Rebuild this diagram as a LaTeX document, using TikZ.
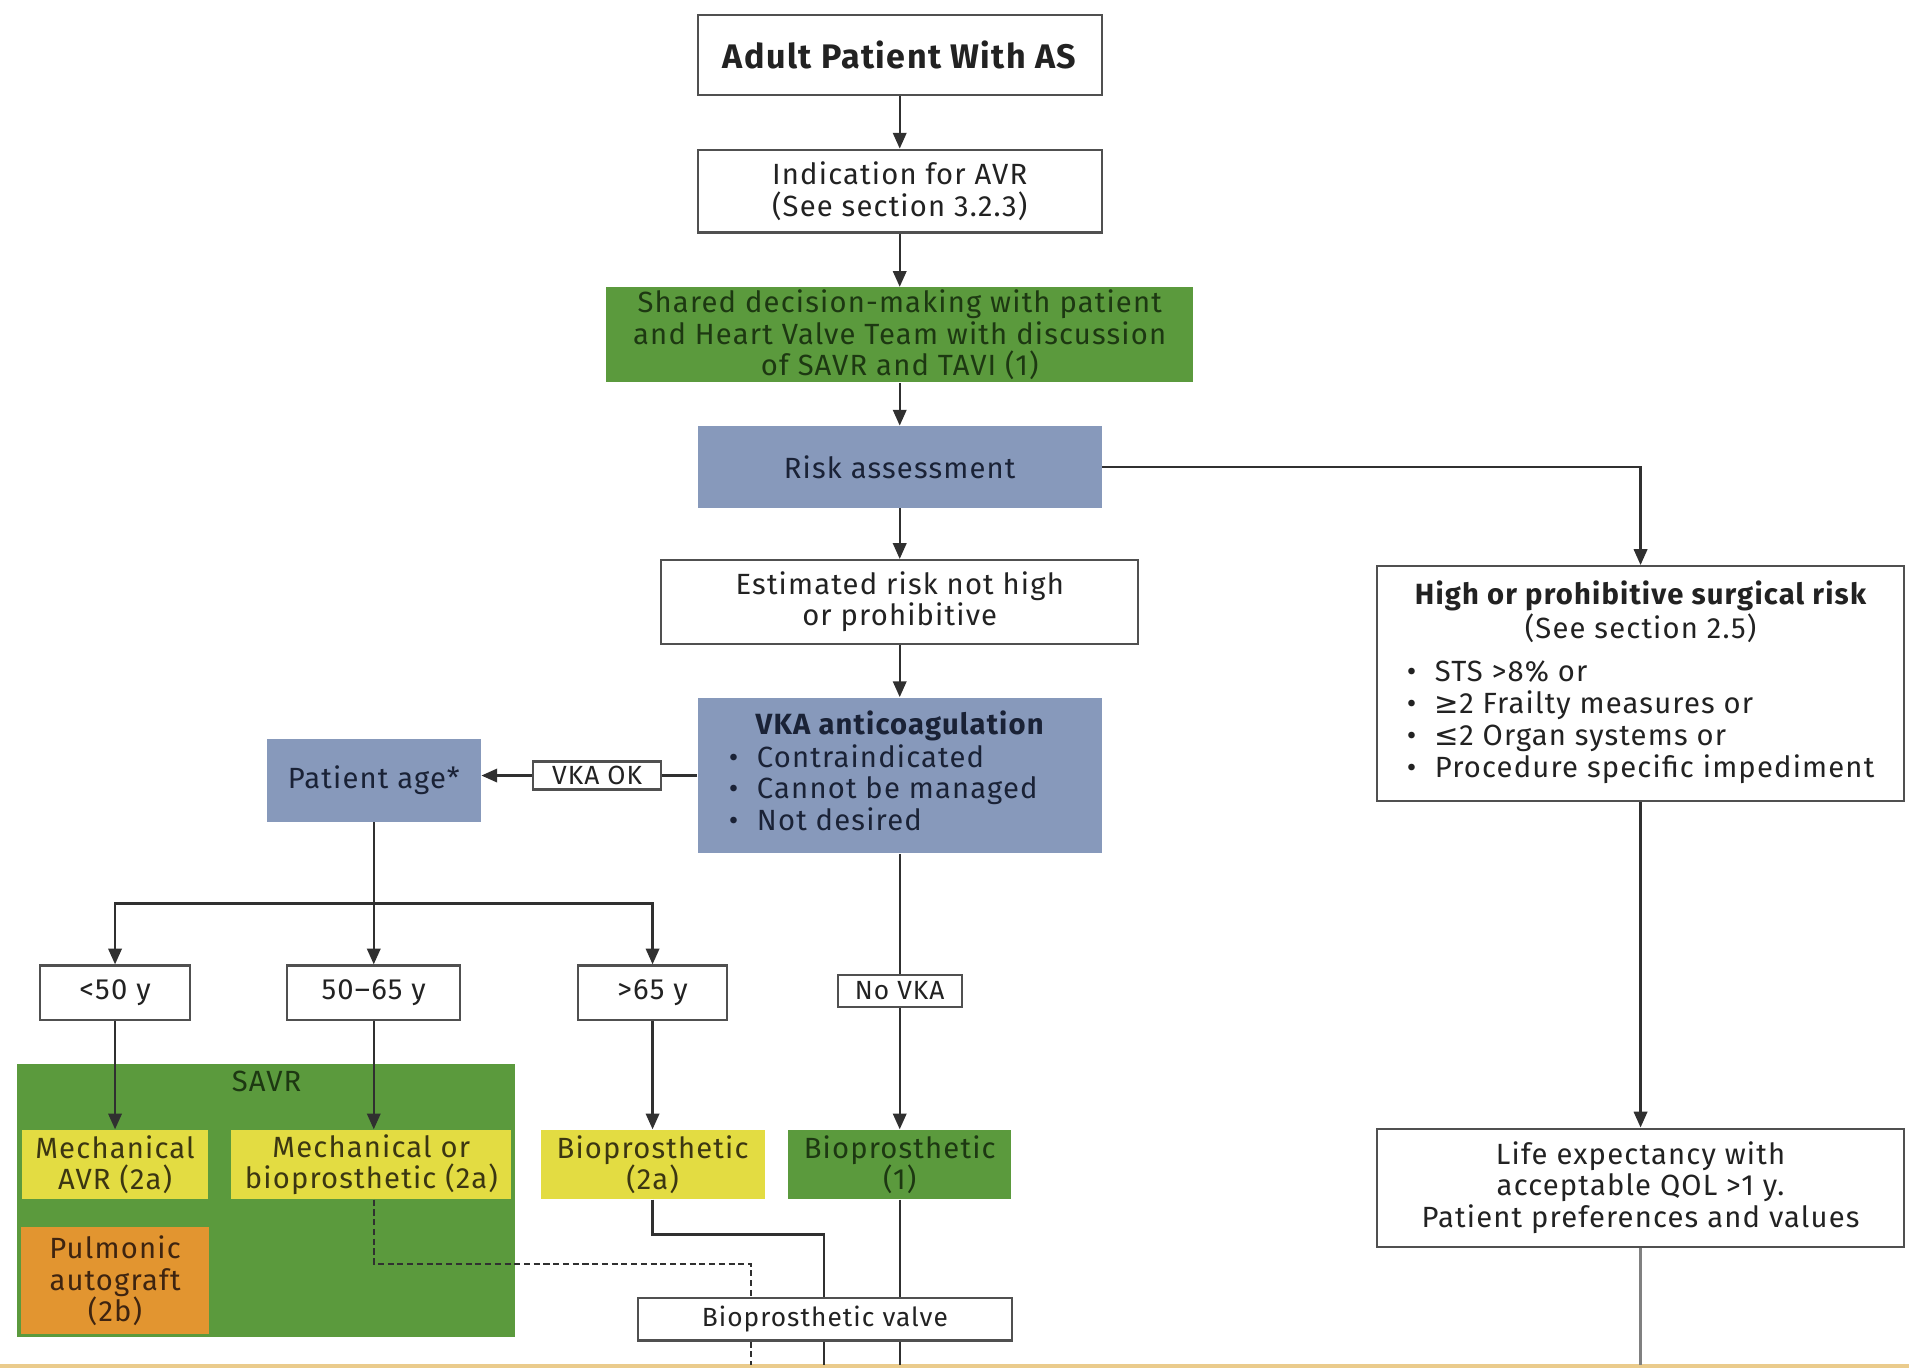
\documentclass[tikz,border=0pt]{standalone}
\usepackage{fontspec}
\setmainfont{Fira Sans}[LetterSpace=4]
\newfontfamily\symf{DejaVu Sans}
\usetikzlibrary{arrows.meta}

\definecolor{savrgreen}{HTML}{5B9A3D}
\definecolor{ylw}{HTML}{E3DC42}
\definecolor{orng}{HTML}{E29530}
\definecolor{slate}{HTML}{8799BB}
\definecolor{inkgreen}{HTML}{1D3812}
\definecolor{inkblue}{HTML}{1A2236}
\definecolor{inkolive}{HTML}{3B3612}
\definecolor{inkbrown}{HTML}{3E2410}
\definecolor{ink}{HTML}{222222}
\definecolor{boxline}{HTML}{505050}
\definecolor{lineink}{HTML}{303030}
\definecolor{strip}{HTML}{EACB8C}

\newcommand{\bul}{\makebox[11.5pt][l]{\textbullet}}

\begin{document}
\begin{tikzpicture}[x=0.5pt,y=-0.5pt,
  sz/.style 2 args={minimum width=#1*0.5pt, minimum height=#2*0.5pt},
  base/.style={inner sep=0pt, align=center, font=\fontsize{12}{12.8}\selectfont},
  box/.style={base, draw=boxline, line width=0.9pt, fill=white, text=ink},
  tag/.style={box, font=\fontsize{10.8}{11}\selectfont},
  bluebox/.style={base, fill=slate, text=inkblue},
  greenbox/.style={base, fill=savrgreen, text=inkgreen},
  yellowbox/.style={base, fill=ylw, text=inkolive},
  orangebox/.style={base, fill=orng, text=inkbrown},
  conn/.style={draw=lineink, line width=1pt},
  arr/.style={conn, -{Triangle[width=5.5pt,length=6.5pt]}},
  dashline/.style={draw=lineink, line width=0.8pt, dash pattern=on 2.5pt off 1.5pt},
]
\useasboundingbox (0,0) rectangle (1568,1124);
\fill[white] (0,0) rectangle (1568,1124);
\fill[strip] (0,1120) rectangle (1568,1124);

% main column
\node[box, sz={332}{66}, font=\fontsize{14}{15}\selectfont\bfseries] (adult) at (739,45) {Adult Patient With AS};
\node[box, sz={332}{68}] (indic) at (739,157) {Indication for AVR\\(See section 3.2.3)};
\node[greenbox, sz={482}{78}] (shared) at (739,275)
  {Shared decision-making with patient\\and Heart Valve Team with discussion\\of SAVR and TAVI (1)};
\node[bluebox, sz={332}{67}] (risk) at (739,383.5) {Risk assessment};
\node[box, sz={392}{69}] (estim) at (739,494.5) {Estimated risk not high\\or prohibitive};
\node[bluebox, sz={332}{128}] (vka) at (739,637)
  {\begin{tabular}{@{}l@{\hspace{13.5pt}}}
   \multicolumn{1}{@{}c@{}}{\bfseries VKA anticoagulation}\\
   \bul Contraindicated\\
   \bul Cannot be managed\\
   \bul Not desired
   \end{tabular}};

% age branch
\node[tag, sz={105}{23}] (okl) at (490.5,637) {VKA OK};
\node[bluebox, sz={176}{68}] (page) at (307,641) {Patient age*};
\node[box, sz={123}{45}] (a50) at (94.5,815.5) {<50 y};
\node[box, sz={142}{45}] (a5065) at (307,815.5) {50--65 y};
\node[box, sz={122}{45}] (a65) at (536,815.5) {>65 y};
\node[tag, sz={102}{26}] (novka) at (739,814) {No VKA};

% valve choices
\node[fill=savrgreen, inner sep=0pt, sz={409}{224}] (savr) at (218.5,986) {};
\node[base, text=inkgreen] (savrlbl) at (219,888) {SAVR};
\node[yellowbox, sz={153}{57}] (mech) at (94.5,956.5) {Mechanical\\AVR (2a)};
\node[yellowbox, sz={230}{57}] (mechbio) at (305,956.5) {Mechanical or\\bioprosthetic (2a)};
\node[orangebox, sz={155}{88}] (pulm) at (94.5,1052) {Pulmonic\\autograft\\(2b)};
\node[yellowbox, sz={184}{57}] (bio2a) at (536,956.5) {Bioprosthetic\\(2a)};
\node[greenbox, sz={183}{57}] (bio1) at (739,956.5) {Bioprosthetic\\(1)};
\node[tag, sz={307}{35}] (valve) at (677.5,1083.5) {Bioprosthetic valve};

% high-risk column
\node[box, sz={433}{193}] (high) at (1347.5,561.5)
  {\begin{tabular}{@{}l@{}}
   \multicolumn{1}{@{}c@{}}{\bfseries High or prohibitive surgical risk}\\
   \multicolumn{1}{@{}c@{}}{(See section 2.5)}\\[5pt]
   \bul STS >8\% or\\
   \bul {\symf ≥}2 Frailty measures or\\
   \bul {\symf ≤}2 Organ systems or\\
   \bul Procedure specific impediment
   \end{tabular}};
\node[box, sz={433}{97}] (life) at (1347.5,975.5)
  {Life expectancy with\\acceptable QOL >1 y.\\Patient preferences and values};

% junction points
\coordinate (split) at (307,742);
\coordinate (j2a) at (677,1014);
\coordinate (jd) at (617,1038);
\coordinate (edge) at (0,1121);

% connectors
\draw[arr] (adult) -- (indic);
\draw[arr] (indic) -- (shared);
\draw[arr] (shared) -- (risk);
\draw[arr] (risk) -- (estim);
\draw[arr] (estim) -- (vka);
\draw[arr] (risk.east) -| (high.north);
\draw[conn] (vka.west) -- (okl.east);
\draw[arr] (okl.west) -- (okl.west -| page.east);
\draw[conn] (page.south) -- (split);
\draw[arr] (split) -| (a50.north);
\draw[arr] (split) -- (a5065.north);
\draw[arr] (split) -| (a65.north);
\draw[arr] (a50.south) -- (mech.north);
\draw[arr] (a5065.south) -- (a5065.south |- mechbio.north);
\draw[arr] (a65.south) -- (bio2a.north);
\draw[conn] (vka.south) -- (novka.north);
\draw[arr] (novka.south) -- (bio1.north);
\draw[conn] (bio2a.south) |- (j2a) -- (j2a |- valve.north);
\draw[conn] (bio1.south) -- (bio1.south |- valve.north);
\draw[dashline] (a5065.south |- mechbio.south) |- (jd) -- (jd |- valve.north);
\draw[dashline] (jd |- valve.south) -- (jd |- edge);
\draw[conn] (j2a |- valve.south) -- (j2a |- edge);
\draw[conn] (bio1.south |- valve.south) -- (bio1.south |- edge);
\draw[arr] (high.south) -- (life.north);
\draw[conn, draw=gray] (life.south) -- (life.south |- edge);
\end{tikzpicture}
\end{document}
